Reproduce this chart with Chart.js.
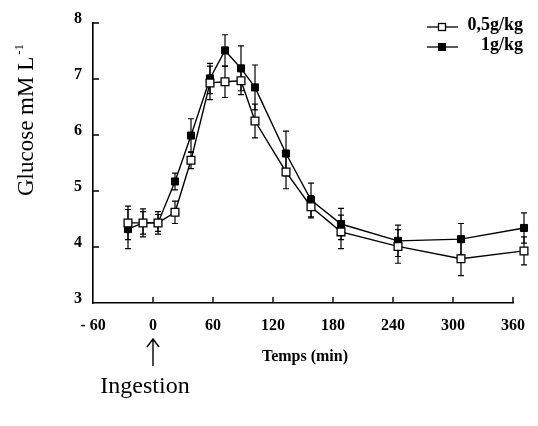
<!DOCTYPE html>
<html><head><meta charset="utf-8">
<script src="https://cdn.jsdelivr.net/npm/chart.js@4/dist/chart.umd.min.js"></script>
<style>html,body{margin:0;padding:0;background:#fff;} canvas{display:block}</style>
</head><body>
<canvas id="c" width="538" height="426"></canvas>
<script>
// ---- data ----
const times = [-25, -10, 5, 22, 38, 57, 72, 88, 102, 133, 158, 188, 245, 308, 371];
const dose05 = [4.43, 4.43, 4.43, 4.62, 5.55, 6.93, 6.95, 6.97, 6.25, 5.34, 4.72, 4.27, 4.01, 3.79, 3.93];
const dose05Err = [0.30, 0.25, 0.20, 0.20, 0.15, 0.30, 0.28, 0.25, 0.30, 0.30, 0.20, 0.30, 0.30, 0.30, 0.25];
const dose1 = [4.32, 4.43, 4.43, 5.17, 5.99, 7.01, 7.51, 7.19, 6.85, 5.67, 4.84, 4.41, 4.11, 4.14, 4.34];
const dose1Err = [0.35, 0.20, 0.15, 0.15, 0.30, 0.27, 0.28, 0.40, 0.40, 0.40, 0.30, 0.28, 0.28, 0.28, 0.27];
const seriesNames = ['0,5g/kg', '1g/kg'];
const xTickValues = [-60, 0, 60, 120, 180, 240, 300, 360];
const xTickLabels = ['- 60', '0', '60', '120', '180', '240', '300', '360'];
const yTickValues = [3, 4, 5, 6, 7, 8];
const yTickLabels = ['3', '4', '5', '6', '7', '8'];
const yTitle = 'Glucose mM L';
const yTitleSup = '-1';
const xTitle = 'Temps (min)';
const noteText = 'Ingestion';
const noteAt = 0;

const SERIF = '"Liberation Serif", "Times New Roman", serif';
const values = [dose05, dose1];
const errors = [dose05Err, dose1Err];

const errorBars = {
  id: 'errorBars',
  beforeDatasetsDraw(chart) {
    const ctx = chart.ctx, xs = chart.scales.x, ys = chart.scales.y;
    ctx.save();
    ctx.strokeStyle = '#000';
    ctx.lineWidth = 1.2;
    values.forEach((vals, d) => {
      vals.forEach((v, i) => {
        const x = xs.getPixelForValue(times[i]);
        const y1 = ys.getPixelForValue(v + errors[d][i]);
        const y2 = ys.getPixelForValue(v - errors[d][i]);
        ctx.beginPath();
        ctx.moveTo(x, y1); ctx.lineTo(x, y2);
        ctx.moveTo(x - 3, y1); ctx.lineTo(x + 3, y1);
        ctx.moveTo(x - 3, y2); ctx.lineTo(x + 3, y2);
        ctx.stroke();
      });
    });
    ctx.restore();
  },
  afterDatasetsDraw(chart) {
    // markers lying past the axis end (Chart.js skips them) are drawn by their own elements
    const ctx = chart.ctx, xs = chart.scales.x;
    for (let d = chart.data.datasets.length - 1; d >= 0; d--) {
      const meta = chart.getDatasetMeta(d);
      meta.data.forEach((el, i) => {
        if (times[i] > xs.max || times[i] < xs.min) el.draw(ctx);
      });
    }
  }
};

const decor = {
  id: 'decor',
  afterDraw(chart) {
    const ctx = chart.ctx, xs = chart.scales.x, ys = chart.scales.y;
    const a = chart.chartArea;
    ctx.save();
    ctx.strokeStyle = '#000';
    ctx.fillStyle = '#000';
    // inward tick marks
    ctx.lineWidth = 1.4;
    ctx.beginPath();
    yTickValues.forEach(v => {
      if (v === ys.min) return;
      const y = ys.getPixelForValue(v);
      ctx.moveTo(a.left, y); ctx.lineTo(a.left + 6, y);
    });
    xTickValues.forEach(v => {
      if (v === xs.min) return;
      const x = xs.getPixelForValue(v);
      ctx.moveTo(x, a.bottom); ctx.lineTo(x, a.bottom - 6);
    });
    ctx.stroke();

    // y title with superscript
    ctx.save();
    ctx.translate(33, 196);
    ctx.rotate(-Math.PI / 2);
    ctx.font = '23px ' + SERIF;
    ctx.textAlign = 'left';
    ctx.textBaseline = 'alphabetic';
    ctx.fillText(yTitle, 0, 0);
    const w = ctx.measureText(yTitle).width;
    ctx.font = '13px ' + SERIF;
    ctx.fillText(yTitleSup, w + 2, -10);
    ctx.restore();

    // x title
    ctx.font = 'bold 16px ' + SERIF;
    ctx.textAlign = 'center';
    ctx.textBaseline = 'middle';
    ctx.fillText(xTitle, (a.left + a.right) / 2 + 2, 357);

    // arrow + Ingestion
    const ax = xs.getPixelForValue(noteAt);
    ctx.lineWidth = 1.4;
    ctx.beginPath();
    ctx.moveTo(ax, 366); ctx.lineTo(ax, 339);
    ctx.moveTo(ax - 6, 347); ctx.lineTo(ax, 339); ctx.lineTo(ax + 6, 347);
    ctx.stroke();
    ctx.font = '24px ' + SERIF;
    ctx.textAlign = 'center';
    ctx.textBaseline = 'alphabetic';
    ctx.fillText(noteText, ax - 8, 393);

    // legend
    const ly = [27, 47];
    seriesNames.forEach((name, i) => {
      ctx.lineWidth = 1.3;
      ctx.beginPath();
      ctx.moveTo(427, ly[i]); ctx.lineTo(458, ly[i]);
      ctx.stroke();
      if (i === 0) {
        ctx.fillStyle = '#fff';
        ctx.fillRect(438.5, ly[i] - 3.5, 7, 7);
        ctx.strokeRect(438.5, ly[i] - 3.5, 7, 7);
        ctx.fillStyle = '#000';
      } else {
        ctx.fillRect(438, ly[i] - 4, 8, 8);
      }
      ctx.font = 'bold 18px ' + SERIF;
      ctx.textAlign = 'right';
      ctx.textBaseline = 'middle';
      ctx.fillText(name, 523, ly[i] - 2);
    });
    ctx.restore();
  }
};

const mk = (d) => times.map((t, i) => ({ x: t, y: values[d][i] }));

new Chart(document.getElementById('c'), {
  type: 'line',
  data: {
    datasets: [
      {
        label: seriesNames[0], data: mk(0),
        borderColor: '#000', borderWidth: 1.4, tension: 0, clip: false,
        pointStyle: 'rect', pointRadius: 5.5, pointBackgroundColor: '#fff',
        pointBorderColor: '#000', pointBorderWidth: 1.3
      },
      {
        label: seriesNames[1], data: mk(1),
        borderColor: '#000', borderWidth: 1.4, tension: 0, clip: false,
        pointStyle: 'rect', pointRadius: 5, pointBackgroundColor: '#000',
        pointBorderColor: '#000', pointBorderWidth: 1
      }
    ]
  },
  options: {
    responsive: false,
    animation: false,
    events: [],
    layout: { padding: { top: 23, right: 19, left: 0, bottom: 0 } },
    plugins: { legend: { display: false }, tooltip: { enabled: false } },
    scales: {
      x: {
        type: 'linear', min: -60, max: 360,
        afterBuildTicks(s) { s.ticks = xTickValues.map(v => ({ value: v })); },
        afterFit(s) { s.height = 123; },
        grid: { drawOnChartArea: false, drawTicks: false },
        border: { display: true, color: '#000', width: 1.6 },
        ticks: {
          padding: 13, color: '#000', maxRotation: 0, autoSkip: false,
          font: { family: SERIF, size: 16, weight: 'bold' },
          callback: (v, i) => xTickLabels[i]
        }
      },
      y: {
        min: 3, max: 8,
        afterBuildTicks(s) { s.ticks = yTickValues.map(v => ({ value: v })); },
        afterFit(s) { s.width = 93; },
        grid: { drawOnChartArea: false, drawTicks: false },
        border: { display: true, color: '#000', width: 1.6 },
        ticks: {
          padding: 11, labelOffset: -4, color: '#000',
          font: { family: SERIF, size: 16, weight: 'bold' },
          callback: (v, i) => yTickLabels[i]
        }
      }
    }
  },
  plugins: [errorBars, decor]
});
</script>
</body></html>
